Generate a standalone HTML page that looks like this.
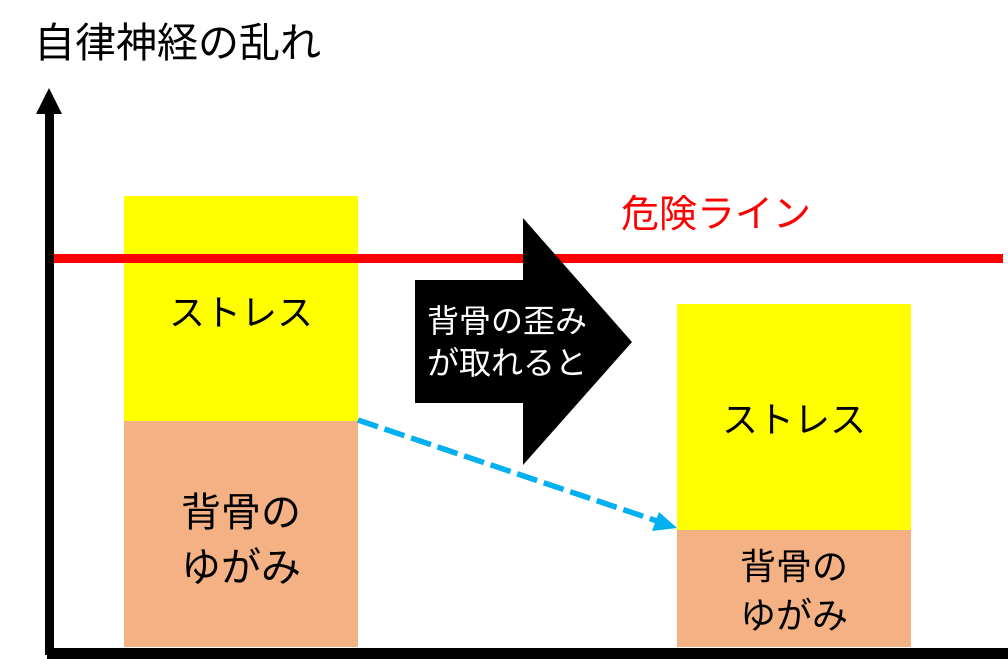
<!DOCTYPE html>
<html><head><meta charset="utf-8"><style>
html,body{margin:0;padding:0;background:#fff;}
svg{display:block;}
text{font-family:"Liberation Sans","Noto Sans CJK JP",sans-serif;}
</style></head><body>
<svg width="1008" height="659" viewBox="0 0 1008 659" xmlns="http://www.w3.org/2000/svg">
<rect width="1008" height="659" fill="#fff"/>
<!-- bars -->
<rect x="124" y="196" width="234" height="225" fill="#ffff00"/>
<rect x="124" y="421" width="234" height="226" fill="#f4b183"/>
<rect x="677" y="304" width="234" height="226" fill="#ffff00"/>
<rect x="677" y="530" width="234" height="117" fill="#f4b183"/>
<!-- red line -->
<rect x="53" y="254" width="950" height="9" fill="#ff0000"/>
<!-- big arrow -->
<polygon points="415,280 523,280 523,218 632,342 523,465 523,403 415,403" fill="#000"/>
<!-- axes -->
<rect x="45" y="112" width="9" height="543" fill="#000"/>
<polygon points="36,114 62,114 49,88" fill="#000"/>
<rect x="47" y="648" width="961" height="11" fill="#000"/>
<!-- dashed blue arrow -->
<line x1="358" y1="420" x2="660" y2="522" stroke="#00b0f0" stroke-width="5.5" stroke-dasharray="21,7"/>
<polygon points="677,528 652,531 659,512" fill="#00b0f0"/>
<!-- texts -->
<text x="34" y="57" font-size="41" fill="#000">自律神経の乱れ</text>
<text x="621" y="227" font-size="38" fill="#ff0000">危険ライン</text>
<text x="241" y="325" font-size="36" fill="#000" text-anchor="middle">ストレス</text>
<text x="241" y="526" font-size="40" fill="#000" text-anchor="middle">背骨の</text>
<text x="241" y="581" font-size="40" fill="#000" text-anchor="middle">ゆがみ</text>
<text x="794" y="432" font-size="36" fill="#000" text-anchor="middle">ストレス</text>
<text x="794" y="579" font-size="36" fill="#000" text-anchor="middle">背骨の</text>
<text x="794" y="628" font-size="36" fill="#000" text-anchor="middle">ゆがみ</text>
<text x="427" y="332" font-size="32" fill="#fff">背骨の歪み</text>
<text x="427" y="374" font-size="32" fill="#fff">が取れると</text>
</svg>
</body></html>
